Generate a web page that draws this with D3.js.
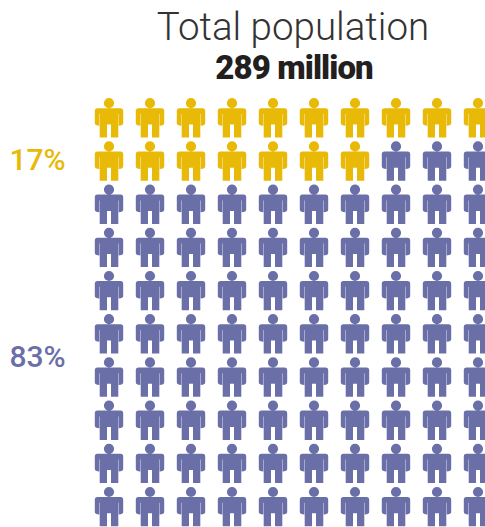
<!DOCTYPE html>
<html>
<head>
<meta charset="utf-8">
<script src="https://cdn.jsdelivr.net/npm/d3@7"></script>
<style>
html, body { margin: 0; padding: 0; background: #fff; overflow: hidden; }
svg { display: block; }
text { font-variant-ligatures: none; }
</style>
</head>
<body>
<div id="chart"></div>
<script>
var title = 'Total population'
var subtitle = '289 million'
var groups = ['minority', 'majority']
var shares = [17, 83]
var share_labels = ['17%', '83%']
var colors = ['#e9b907', '#6a6fa8']
var n_cols = 10
var n_rows = 10

var width = 485
var height = 527

var svg = d3.select('#chart').append('svg')
  .attr('width', width)
  .attr('height', height)

// one person per percent, filled row by row
var people = []
groups.forEach(function (g, gi) {
  for (var i = 0; i < shares[gi]; i++) people.push(gi)
})

var x = d3.scaleBand().domain(d3.range(n_cols)).range([88.5, 498.5]).padding(0)
var y = d3.scaleBand().domain(d3.range(n_rows)).range([98, 530]).padding(0)

// person icon, origin at top centre of the head
function person () {
  var p = d3.path()
  p.arc(0, 5.2, 5.1, 0, 2 * Math.PI)
  p.closePath()
  p.moveTo(-11.5, 10.2)
  p.lineTo(11.5, 10.2)
  p.quadraticCurveTo(14.2, 10.2, 14.2, 13)
  p.lineTo(14.2, 25.3)
  p.quadraticCurveTo(14.2, 27.6, 9.7, 27.8)
  p.lineTo(9.7, 16)
  p.lineTo(9.3, 16)
  p.lineTo(9.3, 39.5)
  p.lineTo(2, 39.5)
  p.lineTo(2, 26.5)
  p.lineTo(-2, 26.5)
  p.lineTo(-2, 39.5)
  p.lineTo(-9.3, 39.5)
  p.lineTo(-9.3, 16)
  p.lineTo(-9.7, 16)
  p.lineTo(-9.7, 27.8)
  p.quadraticCurveTo(-14.2, 27.6, -14.2, 25.3)
  p.lineTo(-14.2, 13)
  p.quadraticCurveTo(-14.2, 10.2, -11.5, 10.2)
  p.closePath()
  return p.toString()
}

svg.append('g').selectAll('path')
  .data(people)
  .join('path')
  .attr('d', person())
  .attr('fill', function (d) { return colors[d] })
  .attr('transform', function (d, i) {
    var r = Math.floor(i / n_cols)
    var c = i - r * n_cols
    return 'translate(' + (x(c) + x.bandwidth() / 2) + ',' + y(r) + ')'
  })

svg.append('text')
  .attr('x', 293)
  .attr('y', 40)
  .attr('text-anchor', 'middle')
  .attr('font-family', 'Roboto')
  .attr('font-weight', 300)
  .attr('font-size', 38.5)
  .attr('fill', '#333')
  .text(title)

svg.append('text')
  .attr('x', 294)
  .attr('y', 79)
  .attr('text-anchor', 'middle')
  .attr('font-family', 'Roboto')
  .attr('font-weight', 900)
  .attr('font-size', 33)
  .attr('letter-spacing', -0.9)
  .attr('fill', '#231f20')
  .text(subtitle)

var label_y = [169.5, 366.5]
svg.append('g').selectAll('text')
  .data(share_labels)
  .join('text')
  .attr('x', 37.5)
  .attr('y', function (d, i) { return label_y[i] })
  .attr('text-anchor', 'middle')
  .attr('font-family', 'Roboto')
  .attr('font-weight', 500)
  .attr('font-size', 30)
  .attr('fill', function (d, i) { return colors[i] })
  .text(function (d) { return d })
</script>
</body>
</html>
